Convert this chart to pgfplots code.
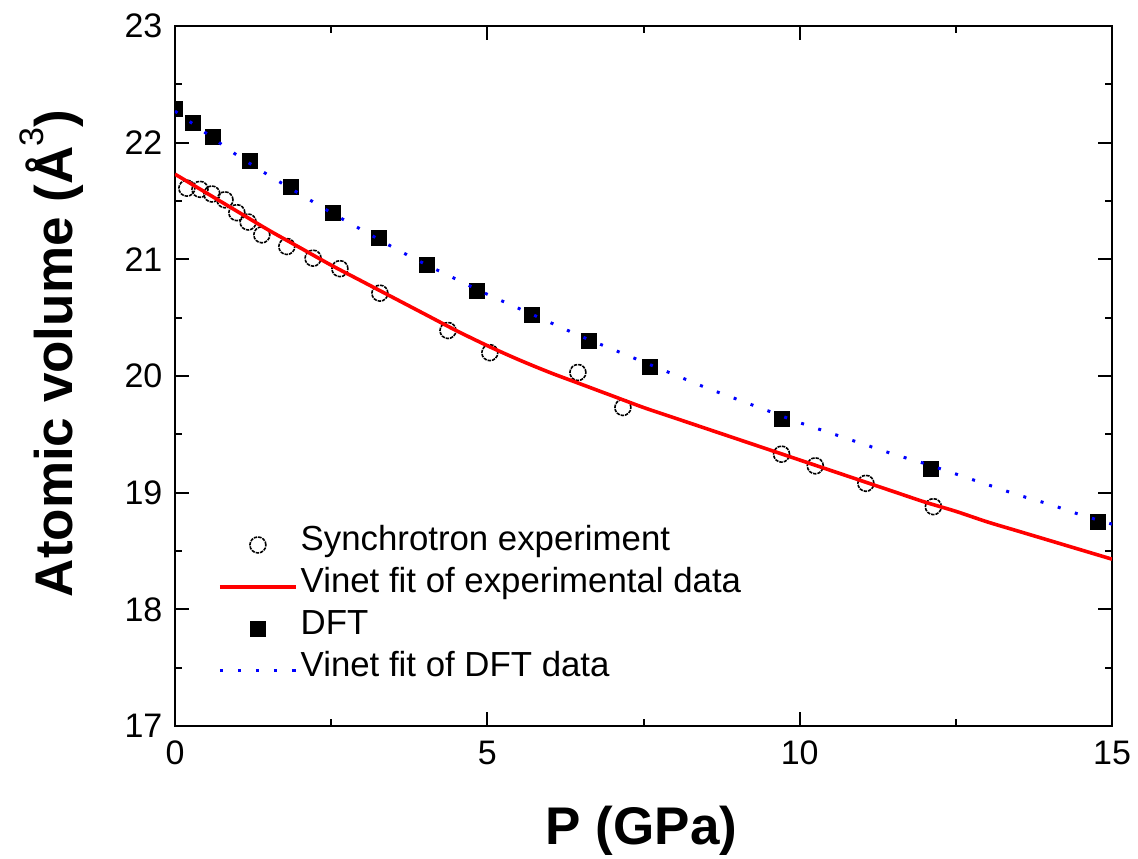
\documentclass[border=0pt]{standalone}
\usepackage{pgfplots}
\pgfplotsset{compat=1.18}
\usepackage{fontspec}
\setmainfont{Liberation Sans}
\begin{document}
\begin{tikzpicture}
\begin{axis}[
 scale only axis, width=468.5pt, height=350pt,
 xmin=0, xmax=15, ymin=17, ymax=23,
 xtick={0,5,10,15}, ytick={17,18,19,20,21,22,23},
 minor x tick num=1, minor y tick num=1,
 tick align=inside, major tick length=7pt, minor tick length=3.5pt,
 every tick/.style={black, line width=1pt},
 axis line style={line width=1.2pt},
 tick label style={font=\fontsize{17}{20}\selectfont},
 /pgf/number format/assume math mode=true,
 xticklabel style={yshift=-3.8pt},
 yticklabel style={xshift=-2.8pt},
 xlabel={P (GPa)},
 ylabel={Atomic volume (Å\raisebox{0.55em}{\mdseries\fontsize{17}{20}\selectfont 3})},
 label style={font=\fontsize{26.5}{30}\selectfont\bfseries},
 xlabel style={at={(axis description cs:0.498,-0.17)}, anchor=base},
 ylabel style={at={(axis description cs:-0.1089,0.532)}, anchor=base},
 clip marker paths=true,
 legend cell align=left,
 legend style={at={(0.046,0.2872)}, anchor=north west, draw=none, fill=none,
   inner sep=0pt, outer sep=0pt, font=\fontsize{17.4}{20}\selectfont, row sep=0.9pt,
   nodes={inner sep=0pt, text height=13pt, text depth=7pt},
   /tikz/every odd column/.append style={column sep=1.5pt}},
 legend image code/.code={\draw[mark repeat=2, mark phase=2,#1] plot coordinates {(0pt,0pt)(19pt,0pt)(38pt,0pt)};},
]
\addplot[only marks, mark=o, mark size=4pt, mark options={black, line width=0.8pt, dash pattern=on 1.7pt off 0.5pt}] coordinates {
(0.19,21.61) (0.40,21.60) (0.59,21.56) (0.80,21.51) (0.99,21.40) (1.17,21.32)
(1.39,21.21) (1.79,21.11) (2.21,21.01) (2.64,20.92) (3.28,20.71) (4.37,20.39)
(5.04,20.20) (6.45,20.03) (7.17,19.73) (9.71,19.33) (10.25,19.23) (11.06,19.08)
(12.14,18.88)};
\addlegendentry{Synchrotron experiment}
\addplot[red, line width=1.8pt, no marks, smooth] coordinates {
(0,21.73) (0.5,21.57) (1,21.41) (1.5,21.25) (2,21.10) (2.5,20.95) (3,20.81)
(3.5,20.67) (4,20.53) (4.5,20.39) (5,20.26) (5.5,20.14) (6,20.03) (6.5,19.93)
(7,19.83) (7.5,19.73) (8,19.64) (8.5,19.55) (9,19.46) (9.5,19.37) (10,19.28)
(10.5,19.19) (11,19.10) (11.5,19.01) (12,18.92) (12.5,18.84) (13,18.75)
(13.5,18.67) (14,18.59) (14.5,18.51) (15,18.43)};
\addlegendentry{Vinet fit of experimental data}
\addplot[only marks, mark=square*, mark size=3.75pt, mark options={black, fill=black}] coordinates {
(0.0,22.29) (0.29,22.17) (0.60,22.05) (1.20,21.84) (1.86,21.62) (2.53,21.40)
(3.27,21.18) (4.03,20.95) (4.83,20.73) (5.72,20.52) (6.63,20.30) (7.61,20.08)
(9.72,19.63) (12.10,19.20) (14.77,18.75)};
\addlegendentry{DFT}
\addplot[blue, line width=1.5pt, dash pattern=on 1.5pt off 7.5pt, no marks, smooth] coordinates {
(0,22.27) (0.5,22.08) (1,21.89) (1.5,21.72) (2,21.56) (2.5,21.40) (3,21.25)
(3.5,21.10) (4,20.96) (4.5,20.83) (5,20.70) (5.5,20.58) (6,20.46) (6.5,20.34)
(7,20.23) (7.5,20.12) (8,20.01) (8.5,19.90) (9,19.80) (9.5,19.70) (10,19.60)
(10.5,19.51) (11,19.42) (11.5,19.33) (12,19.25) (12.5,19.16) (13,19.07)
(13.5,18.98) (14,18.90) (14.5,18.81) (15,18.73)};
\addlegendentry{Vinet fit of DFT data}
\end{axis}
\pgfresetboundingbox
\path[use as bounding box] ([xshift=-87.5pt,yshift=-66.5pt]current axis.south west) rectangle ([xshift=13pt,yshift=13pt]current axis.north east);
\end{tikzpicture}
\end{document}
